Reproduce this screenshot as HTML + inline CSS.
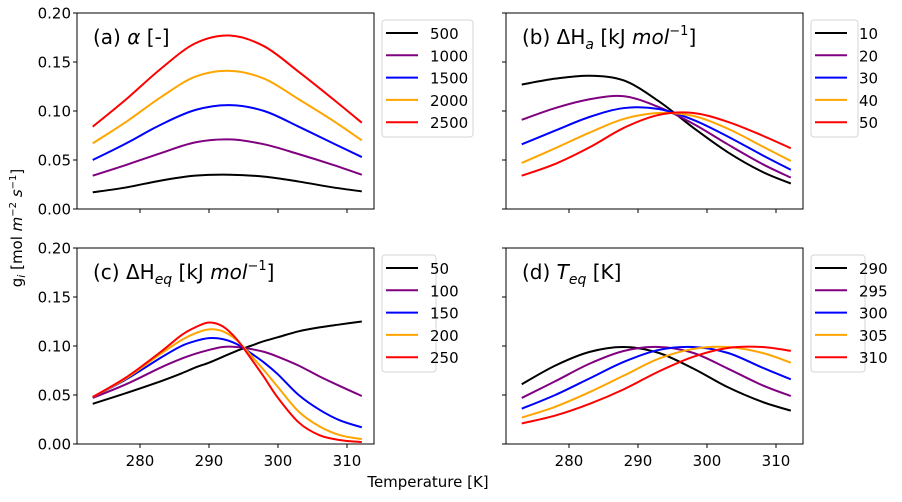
<!DOCTYPE html>
<html><head><meta charset="utf-8"><style>
body{margin:0;background:#fff}
svg text{font-family:"DejaVu Sans","Liberation Sans",sans-serif;fill:#000}
</style></head><body>
<svg id="fig" width="902" height="497" viewBox="0 0 902 497" xmlns="http://www.w3.org/2000/svg">
<text x="22" y="228" font-size="15" text-anchor="middle" transform="rotate(-90 22 228)">g<tspan font-style="italic" font-size="11" dy="3">i</tspan><tspan dy="-3"> [mol </tspan><tspan font-style="italic">m</tspan><tspan font-size="10" dy="-6">−2</tspan><tspan dy="6"> </tspan><tspan font-style="italic">s</tspan><tspan font-size="10" dy="-6">−1</tspan><tspan dy="6">]</tspan></text>
<text x="428" y="487" font-size="15" text-anchor="middle">Temperature [K]</text>
</svg>
<script>
const colors=["#000000","#800080","#0000ff","#ffa500","#ff0000"];
const yTicks=[0,0.05,0.10,0.15,0.20];
const yTickLabels=["0.00","0.05","0.10","0.15","0.20"];
const xTicks=[280,290,300,310];
const xTickLabels=["280","290","300","310"];

const tempsA=[273.15,278,283,288,293,298,303,308,312.15];
const labelsA=["500","1000","1500","2000","2500"];
const seriesA=[
[0.017,0.022,0.029,0.034,0.035,0.033,0.028,0.022,0.018],
[0.034,0.045,0.057,0.068,0.071,0.066,0.056,0.045,0.035],
[0.050,0.067,0.086,0.101,0.106,0.100,0.084,0.067,0.053],
[0.067,0.089,0.114,0.135,0.141,0.133,0.112,0.090,0.070],
[0.084,0.112,0.143,0.169,0.177,0.166,0.140,0.112,0.088]];

const tempsB=[273.15,278,283,288,293,298,303,308,312.15];
const labelsB=["10","20","30","40","50"];
const seriesB=[
[0.127,0.133,0.136,0.131,0.110,0.083,0.058,0.038,0.026],
[0.091,0.103,0.112,0.115,0.104,0.087,0.066,0.046,0.032],
[0.066,0.080,0.094,0.103,0.102,0.091,0.074,0.055,0.040],
[0.047,0.062,0.078,0.092,0.098,0.095,0.082,0.064,0.049],
[0.034,0.046,0.063,0.083,0.096,0.098,0.089,0.075,0.062]];

const tempsC=[273.15,278,283,286,288,290,292,294,296,298,300,303,306,309,312.15];
const labelsC=["50","100","150","200","250"];
const seriesC=[
[0.041,0.052,0.064,0.072,0.078,0.083,0.089,0.095,0.100,0.105,0.109,0.115,0.119,0.122,0.125],
[0.047,0.061,0.078,0.087,0.092,0.096,0.099,0.099,0.097,0.094,0.089,0.080,0.069,0.059,0.049],
[0.048,0.066,0.088,0.100,0.105,0.108,0.107,0.102,0.093,0.083,0.071,0.050,0.035,0.024,0.017],
[0.048,0.067,0.092,0.106,0.113,0.117,0.115,0.106,0.091,0.075,0.058,0.033,0.018,0.009,0.005],
[0.048,0.068,0.094,0.111,0.119,0.124,0.120,0.107,0.088,0.068,0.047,0.022,0.009,0.004,0.002]];

const tempsD=[273.15,278,283,288,293,298,303,308,312.15];
const labelsD=["290","295","300","305","310"];
const seriesD=[
[0.061,0.080,0.094,0.099,0.093,0.077,0.058,0.043,0.034],
[0.047,0.064,0.082,0.095,0.099,0.093,0.077,0.060,0.049],
[0.036,0.050,0.067,0.084,0.096,0.099,0.093,0.078,0.066],
[0.027,0.038,0.053,0.070,0.087,0.097,0.099,0.093,0.083],
[0.021,0.029,0.041,0.056,0.074,0.089,0.098,0.099,0.095]];

const NS="http://www.w3.org/2000/svg";
const svg=document.getElementById('fig');
function mk(tag,attrs,parent){const e=document.createElementNS(NS,tag);for(const k in attrs)e.setAttribute(k,attrs[k]);(parent||svg).appendChild(e);return e;}

const panels=[
{id:"a",ox:0,oy:0,t:tempsA,s:seriesA,l:labelsA,title:'(a) <tspan font-style="italic">α</tspan> [-]',yl:true,xl:false,lw:91},
{id:"b",ox:429,oy:0,t:tempsB,s:seriesB,l:labelsB,title:'(b) ΔH<tspan font-size="14" font-style="italic" dy="5">a</tspan><tspan dy="-5"> [kJ </tspan><tspan font-style="italic">mol</tspan><tspan font-size="13" dy="-9">−1</tspan><tspan dy="9">]</tspan>',yl:false,xl:false,lw:47},
{id:"c",ox:0,oy:235,t:tempsC,s:seriesC,l:labelsC,title:'(c) ΔH<tspan font-size="14" font-style="italic" dy="5">eq</tspan><tspan dy="-5"> [kJ </tspan><tspan font-style="italic">mol</tspan><tspan font-size="13" dy="-9">−1</tspan><tspan dy="9">]</tspan>',yl:true,xl:true,lw:54},
{id:"d",ox:429,oy:235,t:tempsD,s:seriesD,l:labelsD,title:'(d) <tspan font-style="italic">T</tspan><tspan font-size="14" font-style="italic" dy="5">eq</tspan><tspan dy="-5"> [K]</tspan>',yl:false,xl:true,lw:54}];

function smooth(pts){let d="M"+pts[0][0].toFixed(2)+","+pts[0][1].toFixed(2);
for(let i=0;i<pts.length-1;i++){const p0=pts[Math.max(0,i-1)],p1=pts[i],p2=pts[i+1],p3=pts[Math.min(pts.length-1,i+2)];
const c1=[p1[0]+(p2[0]-p0[0])/6,p1[1]+(p2[1]-p0[1])/6],c2=[p2[0]-(p3[0]-p1[0])/6,p2[1]-(p3[1]-p1[1])/6];
d+=" C"+c1[0].toFixed(2)+","+c1[1].toFixed(2)+" "+c2[0].toFixed(2)+","+c2[1].toFixed(2)+" "+p2[0].toFixed(2)+","+p2[1].toFixed(2);}return d;}

panels.forEach(p=>{
  const L=77+p.ox,R=374+p.ox,T=13+p.oy,B=209+p.oy;
  const xs=v=>140+p.ox+(v-280)*6.9;
  const ys=v=>B-v/0.2*(B-T);
  const g=mk('g',{});
  
  
  const clip=mk('clipPath',{id:'clip'+p.id},g);mk('rect',{x:L,y:T,width:R-L,height:B-T},clip);
  const lines=mk('g',{'clip-path':'url(#clip'+p.id+')'},g);
  p.s.forEach((ser,i)=>{
    const pts=ser.map((v,j)=>[xs(p.t[j]),ys(v)]);
    const path=mk('path',{d:smooth(pts),fill:'none',stroke:colors[i],'stroke-width':2},lines);
    
    
  });
  const frame=mk('rect',{x:L,y:T,width:R-L,height:B-T,fill:'none',stroke:'#000','stroke-width':1},g);
  
  
  yTicks.forEach((v,i)=>{const y=ys(v);mk('line',{x1:L-4,x2:L,y1:y,y2:y,stroke:'#000'},g);
    if(p.yl){const t=mk('text',{x:L-6,y:y+5.5,'font-size':15,'text-anchor':'end'},g);t.textContent=yTickLabels[i];
      }});
  xTicks.forEach((v,i)=>{const x=xs(v);mk('line',{x1:x,x2:x,y1:B,y2:B+4,stroke:'#000'},g);
    if(p.xl){const t=mk('text',{x:x,y:B+22,'font-size':15,'text-anchor':'middle'},g);t.textContent=xTickLabels[i];
      }});
  const title=mk('text',{x:L+16,y:T+31,'font-size':20},g);title.innerHTML=p.title;
  
  const lg=mk('g',{},g);
  
  
  const lx=R+8,ly=T+7;
  mk('rect',{x:lx,y:ly,width:p.lw,height:117,rx:3,fill:'#fff',stroke:'#d6d6d6'},lg);
  p.l.forEach((lab,i)=>{const y=ly+13+i*22.3;
    const e=mk('g',{},lg);
    
    
    mk('line',{x1:lx+4,x2:lx+36,y1:y,y2:y,stroke:colors[i],'stroke-width':2},e);
    const t=mk('text',{x:lx+48,y:y+6,'font-size':15},e);t.textContent=lab;});
});
</script>
</body></html>
